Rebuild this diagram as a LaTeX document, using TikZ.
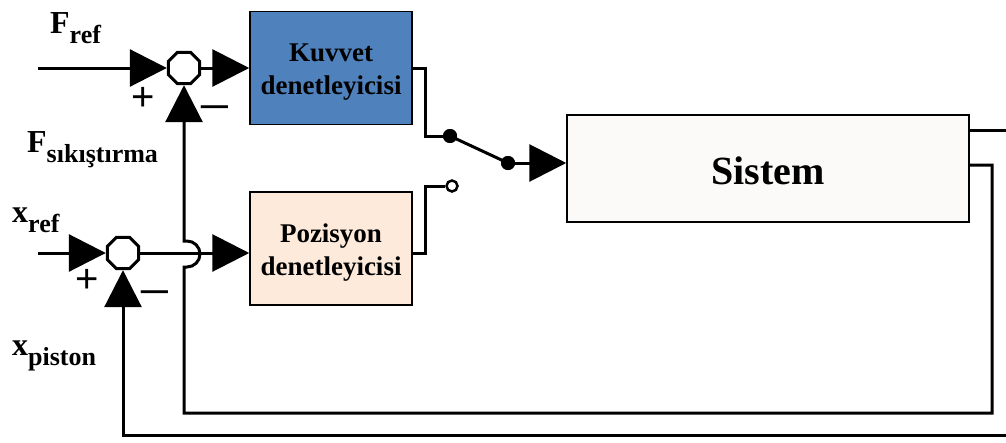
\documentclass[tikz,border=0pt]{standalone}
\usepackage{fontspec}
\setmainfont{Liberation Serif}
\newfontfamily\signfont{Liberation Sans}
\usetikzlibrary{arrows.meta,shapes.geometric}

\definecolor{kuvvetblue}{HTML}{4F81BD}
\definecolor{pozpeach}{HTML}{FDEADA}
\definecolor{sistemfill}{HTML}{FBFAF8}

% signal name with a lowered subscript
\newcommand\siglabel[2]{{\fontsize{32}{32}\selectfont #1}\raisebox{-10pt}{\fontsize{26}{26}\selectfont #2}}

\tikzset{
  wire/.style={line width=3pt, line join=miter},
  sig/.style={wire, -{Triangle[length=37pt,width=37pt]}},
  sumnode/.style={regular polygon, regular polygon sides=8, draw, line width=3pt,
    minimum size=34pt, inner sep=0pt, fill=white},
  ctrlbox/.style={draw, line width=1.5pt, minimum width=162pt, minimum height=113pt,
    inner sep=0pt, align=center, font=\fontsize{27}{33}\selectfont\bfseries},
  plantbox/.style={draw, line width=1.5pt, fill=sistemfill, minimum width=402pt,
    minimum height=107pt, inner sep=0pt, font=\fontsize{40}{48}\selectfont\bfseries},
  lbl/.style={inner sep=0pt, anchor=base west, font=\bfseries},
  signmark/.style={inner sep=0pt, font=\signfont\fontsize{40}{40}\selectfont},
  contact/.style={circle, fill=black, minimum size=14pt, inner sep=0pt},
  opencontact/.style={circle, draw, fill=white, line width=2.5pt, minimum size=11pt, inner sep=0pt},
}

\begin{document}
\begin{tikzpicture}[x=1pt, y=-1pt]
  \useasboundingbox[fill=white] (0,0) rectangle (1006,442);

  % blocks
  \node[ctrlbox, fill=kuvvetblue] (kuvvet) at (331,68)
    {\rule{0pt}{26pt}Kuvvet\\denetleyicisi};
  \node[ctrlbox, fill=pozpeach] (pozisyon) at (331,248.5)
    {\rule{0pt}{26pt}Pozisyon\\denetleyicisi};
  \node[plantbox] (sistem) at (768,168.5) {\rule{0pt}{33pt}Sistem};

  % summing junctions
  \node[sumnode] (sumF) at (184,68) {};
  \node[sumnode] (sumX) at (123,253) {};

  % switch contacts
  \node[contact] (swA) at (450,136) {};
  \node[contact] (swB) at (508,163) {};
  \node[opencontact] (swC) at (452,186) {};

  % external inputs and outputs
  \coordinate (frefin) at (38,68);
  \coordinate (xrefin) at (38,253);
  \coordinate (sOutA) at ([yshift=38.5pt]sistem.east);
  \coordinate (sOutB) at ([yshift=3.5pt]sistem.east);
  \coordinate (edgeA) at (1006,130);
  \coordinate (edgeB) at (1006,435);

  % forward paths
  \draw[sig] (frefin) -- (sumF.west);
  \draw[sig] (sumF.east) -- (sumF.east -| kuvvet.west);
  \draw[sig] (xrefin) -- (sumX.west);
  \draw[sig] (sumX.east) -- (sumX.east -| pozisyon.west);

  % controller outputs to the switch
  \draw[wire] (kuvvet.east) -- ++(13,0) |- (swA.center);
  \draw[wire] ([yshift=-4.5pt]pozisyon.east) -- ++(13,0) |- (swC.west);
  \draw[wire] (swA.center) -- (swB.center);
  \draw[sig] (swB.center) -- (swB.center -| sistem.west);

  % plant outputs
  \draw[wire] (sOutA) -- (edgeA);
  \draw[sig] (sOutB) -- (992,165) -- (992,413) -- (184,413) -- (184,267) -- (187,267)
    arc[start angle=-90, end angle=90, radius=13pt] -- (184,241) -- (sumF.south);
  \draw[sig] (edgeB) -- (123,435) -- (sumX.south);

  % redraw contacts above the wires
  \node[contact] at (swA) {};
  \node[contact] at (swB) {};

  % signs at the junctions
  \node[signmark] (pF) at (143,99) {+};
  \node[signmark] (mF) at (215,113) {\scalebox{1.4}[1]{−}};
  \node[signmark] (pX) at (87,281) {+};
  \node[signmark] (mX) at (155,298) {\scalebox{1.4}[1]{−}};

  % signal names
  \node[lbl] (lFref) at (50,33) {\siglabel{F}{ref}};
  \node[lbl] (lFsik) at (27,152) {\siglabel{F}{sıkıştırma}};
  \node[lbl] (lxref) at (12,222) {\siglabel{x}{ref}};
  \node[lbl] (lxpis) at (12,355) {\siglabel{x}{piston}};
\end{tikzpicture}
\end{document}
